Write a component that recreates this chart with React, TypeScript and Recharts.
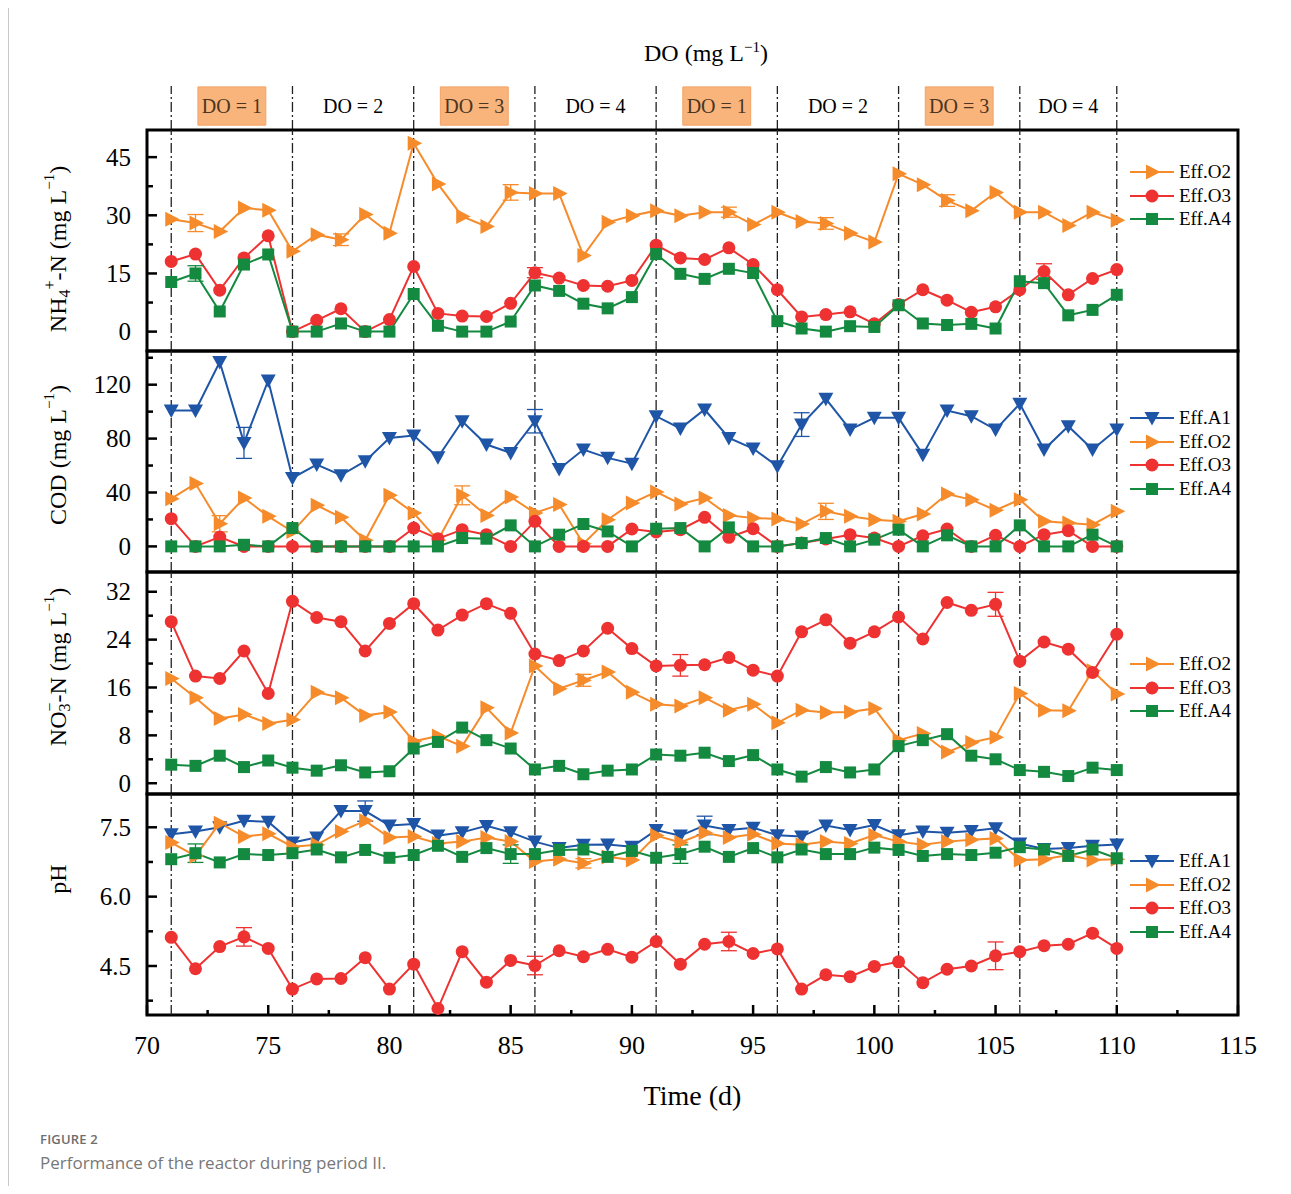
import React from 'react';
import { ErrorBar, Legend, Line, LineChart, ReferenceArea, ReferenceLine, XAxis, YAxis } from 'recharts';

const SERIF = '"Liberation Serif", "Times New Roman", serif';
const ORANGE = '#F68B2B';
const RED = '#EE3131';
const GREEN = '#148A40';
const BLUE = '#1F55A6';

const days = [
  71, 72, 73, 74, 75, 76, 77, 78, 79, 80, 81, 82, 83, 84, 85, 86, 87, 88, 89, 90,
  91, 92, 93, 94, 95, 96, 97, 98, 99, 100, 101, 102, 103, 104, 105, 106, 107, 108, 109, 110,
];
const xMajor = [70, 75, 80, 85, 90, 95, 100, 105, 110, 115];
const xMinor = [72.5, 77.5, 82.5, 87.5, 92.5, 97.5, 102.5, 107.5, 112.5];

// DO phases
const doBounds = [71, 76, 81, 86, 91, 96, 101, 106, 110];
const doLabels = ['DO = 1', 'DO = 2', 'DO = 3', 'DO = 4', 'DO = 1', 'DO = 2', 'DO = 3', 'DO = 4'];
const doShaded = [true, false, true, false, true, false, true, false];

// NH4+-N
const nhO2 = [29.0, 28.0, 25.8, 31.9, 31.3, 20.7, 25.0, 23.7, 30.2, 25.4, 48.6, 38.1, 29.7, 27.1, 35.9, 35.6, 35.6, 19.6, 28.2, 29.9,
  31.2, 29.9, 30.8, 30.8, 27.6, 30.8, 28.4, 27.9, 25.4, 23.1, 40.7, 37.9, 33.8, 31.2, 35.9, 30.8, 30.8, 27.4, 30.8, 28.7];
const nhO3 = [18.1, 20.0, 10.7, 19.0, 24.7, 0, 2.9, 5.9, 0, 3.1, 16.8, 4.7, 4.0, 3.9, 7.3, 15.2, 13.8, 11.9, 11.7, 13.2,
  22.3, 19.0, 18.6, 21.6, 17.3, 10.8, 3.8, 4.4, 5.1, 2.0, 7.0, 10.8, 8.1, 5.0, 6.4, 10.8, 15.5, 9.5, 13.7, 16.0];
const nhA4 = [12.8, 15.0, 5.2, 17.3, 19.9, 0, 0, 2.1, 0, 0, 9.7, 1.5, 0, 0, 2.6, 11.9, 10.5, 7.2, 6.0, 8.9,
  20.0, 14.9, 13.6, 16.2, 15.1, 2.7, 0.8, 0, 1.4, 1.2, 6.8, 2.1, 1.7, 2.0, 0.8, 13.0, 12.5, 4.2, 5.6, 9.5];
const nhO2Err: [number, number][] = [[72, 2.2], [78, 1.5], [85, 2], [94, 1.3], [98, 1.5], [103, 1.5]];
const nhO3Err: [number, number][] = [[86, 1.3], [107, 2]];
const nhA4Err: [number, number][] = [[72, 2]];

// COD
const codA1 = [100.8, 100.8, 136.8, 76.8, 123.1, 50.8, 60.7, 52.8, 63.2, 80.5, 82.3, 66.2, 92.9, 75.6, 69.4, 92.9, 57.5, 71.9, 65.7, 61.4,
  96.6, 87.5, 101.6, 80.5, 72.6, 59.5, 90.4, 109.5, 86.7, 95.4, 95.4, 68.1, 100.8, 96.6, 86.7, 105.8, 71.9, 89.2, 71.9, 86.7];
const codO2 = [35.4, 46.6, 16.8, 35.9, 22.3, 11, 30.5, 21.6, 4.5, 37.9, 24.8, 4.5, 37.9, 23.0, 36.7, 24.8, 31.0, 2, 19.8, 32.2,
  40.4, 31.5, 35.9, 23.0, 21.1, 20.3, 16.6, 26.0, 22.3, 19.8, 18.6, 24.0, 38.9, 34.7, 26.8, 34.7, 18.6, 17.3, 16.1, 26.0];
const codO3 = [20.6, 0, 6.9, 0, 0, 0, 0, 0, 0, 0, 13.6, 5.7, 12.4, 8.7, 0, 18.6, 0, 0, 0, 12.9,
  10.7, 12.4, 21.6, 6.7, 13.1, 0, 2.5, 5.5, 8.7, 6.2, 0, 7.9, 12.9, 0, 8.2, 0, 8.7, 11.6, 0, 0];
const codA4 = [0, 0, 0, 1.2, 0, 13.6, 0, 0, 0, 0, 0, 0, 6.2, 5.7, 15.6, 0, 8.7, 16.6, 11.1, 0,
  13.1, 13.6, 0, 14.1, 0, 0, 2.5, 6.2, 0, 5.0, 12.4, 0, 8.2, 0, 0, 15.6, 0, 0, 8.7, 0];
const codA1Err: [number, number][] = [[74, 11.5], [86, 8.7], [97, 8.8]];
const codO2Err: [number, number][] = [[73, 6], [83, 7], [98, 6]];

// NO3--N
const noO2 = [17.5, 14.3, 10.8, 11.5, 10.0, 10.6, 15.2, 14.3, 11.3, 11.9, 7.0, 7.9, 6.2, 12.6, 8.4, 19.6, 15.8, 17.2, 18.6, 15.2,
  13.2, 12.9, 14.3, 12.2, 13.2, 10.1, 12.2, 11.8, 11.9, 12.5, 7.2, 8.3, 5.2, 6.8, 7.7, 15.0, 12.2, 12.1, 18.8, 14.9];
const noO3 = [27.0, 17.9, 17.5, 22.1, 15.0, 30.4, 27.7, 27.0, 22.1, 26.7, 30.0, 25.6, 28.1, 30.0, 28.4, 21.6, 20.5, 22.1, 25.9, 22.5,
  19.6, 19.7, 19.8, 21.0, 18.9, 17.9, 25.3, 27.3, 23.4, 25.3, 27.8, 24.1, 30.2, 28.9, 29.9, 20.4, 23.6, 22.4, 18.5, 24.9];
const noA4 = [3.1, 2.9, 4.6, 2.7, 3.8, 2.6, 2.1, 3.0, 1.8, 2.0, 5.8, 6.9, 9.3, 7.2, 5.8, 2.3, 2.9, 1.5, 2.1, 2.3,
  4.8, 4.6, 5.1, 3.7, 4.7, 2.3, 1.1, 2.7, 1.8, 2.3, 6.2, 7.2, 8.2, 4.6, 4.0, 2.2, 1.9, 1.2, 2.6, 2.2];
const noO2Err: [number, number][] = [[88, 1]];
const noO3Err: [number, number][] = [[92, 1.8], [105, 2]];

// pH
const phA1 = [7.35, 7.41, 7.50, 7.64, 7.62, 7.17, 7.28, 7.85, 7.85, 7.54, 7.57, 7.32, 7.39, 7.53, 7.39, 7.19, 7.05, 7.12, 7.13, 7.08,
  7.44, 7.32, 7.54, 7.44, 7.49, 7.33, 7.30, 7.54, 7.44, 7.55, 7.33, 7.41, 7.38, 7.42, 7.48, 7.15, 7.03, 7.05, 7.10, 7.13];
const phO2 = [7.17, 6.88, 7.59, 7.30, 7.36, 7.08, 7.12, 7.41, 7.64, 7.28, 7.30, 7.15, 7.19, 7.28, 7.19, 6.76, 6.81, 6.72, 6.86, 6.79,
  7.32, 7.17, 7.38, 7.28, 7.35, 7.15, 7.12, 7.19, 7.15, 7.33, 7.19, 7.12, 7.19, 7.23, 7.26, 6.79, 6.81, 6.90, 6.79, 6.81];
const phO3 = [5.12, 4.44, 4.92, 5.13, 4.88, 4.00, 4.22, 4.23, 4.68, 4.00, 4.54, 3.58, 4.81, 4.15, 4.62, 4.51, 4.83, 4.70, 4.86, 4.69,
  5.03, 4.54, 4.97, 5.03, 4.77, 4.87, 4.00, 4.31, 4.27, 4.49, 4.59, 4.14, 4.43, 4.50, 4.72, 4.81, 4.94, 4.97, 5.21, 4.88];
const phA4 = [6.81, 6.94, 6.74, 6.92, 6.90, 6.94, 7.02, 6.85, 7.01, 6.84, 6.90, 7.10, 6.86, 7.05, 6.92, 6.92, 7.01, 7.02, 6.86, 6.99,
  6.84, 6.92, 7.08, 6.86, 7.05, 6.85, 7.02, 6.92, 6.92, 7.06, 7.01, 6.88, 6.92, 6.90, 6.95, 7.07, 7.02, 6.88, 7.02, 6.83];
const phA1Err: [number, number][] = [[79, 0.22], [93, 0.2]];
const phO2Err: [number, number][] = [[88, 0.1]];
const phO3Err: [number, number][] = [[74, 0.2], [86, 0.2], [94, 0.2], [105, 0.3]];
const phA4Err: [number, number][] = [[72, 0.2], [85, 0.2], [92, 0.2]];

type Marker = 'right' | 'down' | 'circle' | 'square';

interface SeriesDef {
  key: string;
  name: string;
  values: number[];
  err?: [number, number][];
  color: string;
  marker: Marker;
}

interface PanelDef {
  top: number;
  height: number;
  domain: [number, number];
  major: number[];
  minor: number[];
  fmt: (v: number) => string;
  title: React.ReactNode;
  titleY: number;
  legendY: number;
  series: SeriesDef[];
  showX?: boolean;
}

function marker(kind: Marker, color: string, cx: number, cy: number, key?: React.Key) {
  switch (kind) {
    case 'right':
      return <polygon key={key} points={`${cx - 6},${cy - 7.5} ${cx + 8.5},${cy} ${cx - 6},${cy + 7.5}`} fill={color} />;
    case 'down':
      return <polygon key={key} points={`${cx - 7.5},${cy - 6} ${cx + 7.5},${cy - 6} ${cx},${cy + 7.5}`} fill={color} />;
    case 'circle':
      return <circle key={key} cx={cx} cy={cy} r={6.5} fill={color} />;
    default:
      return <rect key={key} x={cx - 6} y={cy - 6} width={12} height={12} fill={color} />;
  }
}

const O2 = (values: number[], err?: [number, number][]): SeriesDef => ({ key: 'o2', name: 'Eff.O2', values, err, color: ORANGE, marker: 'right' });
const O3 = (values: number[], err?: [number, number][]): SeriesDef => ({ key: 'o3', name: 'Eff.O3', values, err, color: RED, marker: 'circle' });
const A4 = (values: number[], err?: [number, number][]): SeriesDef => ({ key: 'a4', name: 'Eff.A4', values, err, color: GREEN, marker: 'square' });
const A1 = (values: number[], err?: [number, number][]): SeriesDef => ({ key: 'a1', name: 'Eff.A1', values, err, color: BLUE, marker: 'down' });

const sub = (t: string) => [<tspan key="a" dy={6} fontSize={16}>{t}</tspan>];
const mgL = (
  <>
    <tspan> (mg L</tspan>
    <tspan dy={-9} fontSize={15}>−1</tspan>
    <tspan dy={9}>)</tspan>
  </>
);

const panels: PanelDef[] = [
  {
    top: 130, height: 221, domain: [-5, 52], major: [0, 15, 30, 45], minor: [7.5, 22.5, 37.5],
    fmt: (v) => String(v), titleY: 249, legendY: 172,
    title: (
      <>
        <tspan>NH</tspan>
        {sub('4')}
        <tspan dy={-15} fontSize={16}>+</tspan>
        <tspan dy={9}>-N</tspan>
        {mgL}
      </>
    ),
    series: [O2(nhO2, nhO2Err), O3(nhO3, nhO3Err), A4(nhA4, nhA4Err)],
  },
  {
    top: 351, height: 221, domain: [-19, 145], major: [0, 40, 80, 120], minor: [20, 60, 100, 140],
    fmt: (v) => String(v), titleY: 455, legendY: 418,
    title: (<><tspan>COD</tspan>{mgL}</>),
    series: [A1(codA1, codA1Err), O2(codO2, codO2Err), O3(codO3), A4(codA4)],
  },
  {
    top: 572, height: 222, domain: [-1.8, 35.3], major: [0, 8, 16, 24, 32], minor: [4, 12, 20, 28],
    fmt: (v) => String(v), titleY: 667, legendY: 664,
    title: (
      <>
        <tspan>NO</tspan>
        {sub('3')}
        <tspan dy={-15} dx={-8} fontSize={16}>−</tspan>
        <tspan dy={9}>-N</tspan>
        {mgL}
      </>
    ),
    series: [O2(noO2, noO2Err), O3(noO3, noO3Err), A4(noA4)],
  },
  {
    top: 794, height: 221, domain: [3.44, 8.22], major: [4.5, 6, 7.5], minor: [3.75, 5.25, 6.75],
    fmt: (v) => v.toFixed(1), titleY: 879, legendY: 861,
    title: <tspan>pH</tspan>,
    series: [A1(phA1, phA1Err), O2(phO2, phO2Err), O3(phO3, phO3Err), A4(phA4, phA4Err)],
    showX: true,
  },
];

const PAD = 4;
const CHART_W = 1291;
const PLOT_LEFT = 147;
const PLOT_RIGHT_MARGIN = 53;

function YTick(props: any) {
  const { x, y, payload, major, fmt } = props;
  const isMajor = major.includes(payload.value);
  return (
    <g>
      <line x1={x} x2={x + (isMajor ? 10 : 6)} y1={y} y2={y} stroke="#000" strokeWidth={2.5} />
      {isMajor && (
        <text x={x - 16} y={y} dy="0.35em" textAnchor="end" fontSize={25} fontFamily={SERIF} fill="#000">
          {fmt(payload.value)}
        </text>
      )}
    </g>
  );
}

function XTick(props: any) {
  const { x, y, payload } = props;
  const isMajor = xMajor.includes(payload.value);
  return (
    <g>
      <line x1={x} x2={x} y1={y} y2={y - (isMajor ? 10 : 5)} stroke="#000" strokeWidth={2.5} />
      {isMajor && (
        <text x={x} y={y + 30} dy="0.35em" textAnchor="middle" fontSize={26} fontFamily={SERIF} fill="#000">
          {payload.value}
        </text>
      )}
    </g>
  );
}

function YTitle({ cy, text }: any) {
  return (
    <text
      transform={`translate(58, ${cy}) rotate(-90)`}
      textAnchor="middle"
      dominantBaseline="central"
      fontSize={24}
      fontFamily={SERIF}
      fill="#000"
    >
      {text}
    </text>
  );
}

function XTitle({ viewBox }: any) {
  const cx = viewBox ? viewBox.x + viewBox.width / 2 : 692;
  const y = viewBox ? viewBox.y + 80 : 301;
  return (
    <text x={cx} y={y} dy="0.35em" textAnchor="middle" fontSize={28} fontFamily={SERIF} fill="#000">
      Time (d)
    </text>
  );
}

function LegendBox({ series }: { series: SeriesDef[] }) {
  return (
    <div style={{ fontFamily: SERIF, fontSize: 19, lineHeight: '23.6px' }}>
      {series.map((s) => (
        <div key={s.key} style={{ display: 'flex', alignItems: 'center', height: 23.6 }}>
          <svg width={48} height={20} style={{ display: 'block' }}>
            <line x1={2} x2={46} y1={10} y2={10} stroke={s.color} strokeWidth={2} />
            {marker(s.marker, s.color, 24, 10)}
          </svg>
          <span style={{ marginLeft: 3, color: '#000' }}>{s.name}</span>
        </div>
      ))}
    </div>
  );
}

function Panel({ p }: { p: PanelDef }) {
  const data = days.map((day, i) => {
    const row: Record<string, number | undefined> = { day };
    p.series.forEach((s) => {
      row[s.key] = s.values[i];
      const e = s.err?.find(([d]) => d === day);
      row[`${s.key}E`] = e ? e[1] : undefined;
    });
    return row;
  });
  const xH = p.showX ? 100 : 0;
  const yTicks = [...p.major, ...p.minor].sort((a, b) => a - b);
  return (
    <div style={{ position: 'absolute', left: 0, top: p.top - PAD }}>
      <LineChart
        width={CHART_W}
        height={p.height + 2 * PAD + xH}
        data={data}
        margin={{ top: PAD, right: PLOT_RIGHT_MARGIN, bottom: PAD, left: 0 }}
      >
        <XAxis
          dataKey="day"
          type="number"
          domain={[70, 115]}
          ticks={[...xMajor, ...xMinor].sort((a, b) => a - b)}
          interval={0}
          hide={!p.showX}
          height={xH || 30}
          tick={<XTick />}
          tickLine={false}
          axisLine={false}
          tickSize={0}
          tickMargin={0}
          allowDataOverflow
          label={p.showX ? <XTitle /> : undefined}
        />
        <YAxis
          type="number"
          domain={p.domain}
          ticks={yTicks}
          interval={0}
          width={PLOT_LEFT}
          tick={<YTick major={p.major} fmt={p.fmt} />}
          tickLine={false}
          axisLine={false}
          tickSize={0}
          tickMargin={0}
          allowDataOverflow
          label={<YTitle cy={p.titleY - p.top + PAD} text={p.title} />}
        />
        {doBounds.map((b) => (
          <ReferenceLine key={b} x={b} stroke="#222" strokeWidth={1.3} strokeDasharray="10 3 2 3" />
        ))}
        {p.series.map((s) => (
          <Line
            key={s.key}
            dataKey={s.key}
            name={s.name}
            stroke={s.color}
            strokeWidth={2}
            isAnimationActive={false}
            activeDot={false}
            dot={(props: any) => marker(s.marker, s.color, props.cx, props.cy, props.index)}
          >
            {s.err && (
              <ErrorBar dataKey={`${s.key}E`} width={8} stroke={s.color} strokeWidth={1.3} direction="y" />
            )}
          </Line>
        ))}
        <ReferenceArea
          x1={70}
          x2={115}
          y1={p.domain[0]}
          y2={p.domain[1]}
          fill="none"
          fillOpacity={0}
          stroke="#000"
          strokeWidth={3}
          ifOverflow="visible"
        />
        <Legend
          layout="vertical"
          align="center"
          verticalAlign="middle"
          wrapperStyle={{ left: 1128, top: p.legendY - p.top + PAD - 11.8, width: 130, height: 'auto' }}
          content={() => <LegendBox series={p.series} />}
        />
      </LineChart>
    </div>
  );
}

function Header() {
  const data = days.map((day) => ({ day }));
  return (
    <div style={{ position: 'absolute', left: 0, top: 86 }}>
      <LineChart width={CHART_W} height={44} data={data} margin={{ top: 0, right: PLOT_RIGHT_MARGIN, bottom: 0, left: PLOT_LEFT }}>
        <XAxis dataKey="day" type="number" domain={[70, 115]} hide allowDataOverflow />
        <YAxis type="number" domain={[0, 1]} hide allowDataOverflow />
        {doBounds.map((b) => (
          <ReferenceLine key={b} x={b} stroke="#222" strokeWidth={1.3} strokeDasharray="10 3 2 3" />
        ))}
        {doLabels.map((lab, i) => {
          const mid = (doBounds[i] + doBounds[i + 1]) / 2;
          return (
            <ReferenceArea
              key={i}
              x1={mid - 1.4}
              x2={mid + 1.4}
              y1={0.11}
              y2={0.98}
              fill={doShaded[i] ? '#F9B47C' : 'none'}
              fillOpacity={doShaded[i] ? 1 : 0}
              stroke={doShaded[i] ? '#F3A264' : 'none'}
              strokeWidth={1}
              ifOverflow="visible"
              label={{
                value: lab,
                position: 'center',
                fontSize: 20,
                fontFamily: SERIF,
                fill: doShaded[i] ? '#4A3522' : '#000',
              }}
            />
          );
        })}
      </LineChart>
    </div>
  );
}

export default function App() {
  return (
    <div style={{ position: 'relative', width: 1291, height: 1194, margin: -8, background: '#fff', overflow: 'hidden' }}>
      <div
        style={{
          position: 'absolute',
          left: 8,
          top: 7,
          width: 1300,
          height: 1200,
          borderTop: '1px solid #c8c8c8',
          borderLeft: '1px solid #c8c8c8',
        }}
      />
      <div
        style={{
          position: 'absolute',
          left: 556,
          top: 38,
          width: 300,
          textAlign: 'center',
          fontFamily: SERIF,
          fontSize: 24,
          lineHeight: '30px',
          color: '#000',
        }}
      >
        DO (mg L<sup style={{ fontSize: 15, lineHeight: 0 }}>−1</sup>)
      </div>
      <Header />
      {panels.map((p) => (
        <Panel key={p.top} p={p} />
      ))}
      <div
        style={{
          position: 'absolute',
          left: 40,
          top: 1130,
          fontFamily: '"Open Sans", "Noto Sans", sans-serif',
          fontSize: 13,
          fontWeight: 600,
          color: '#6e6e6e',
          letterSpacing: 0.2,
        }}
      >
        FIGURE 2
      </div>
      <div
        style={{
          position: 'absolute',
          left: 40,
          top: 1151,
          fontFamily: '"Open Sans", "Noto Sans", sans-serif',
          fontSize: 17,
          color: '#777',
        }}
      >
        Performance of the reactor during period II.
      </div>
    </div>
  );
}
